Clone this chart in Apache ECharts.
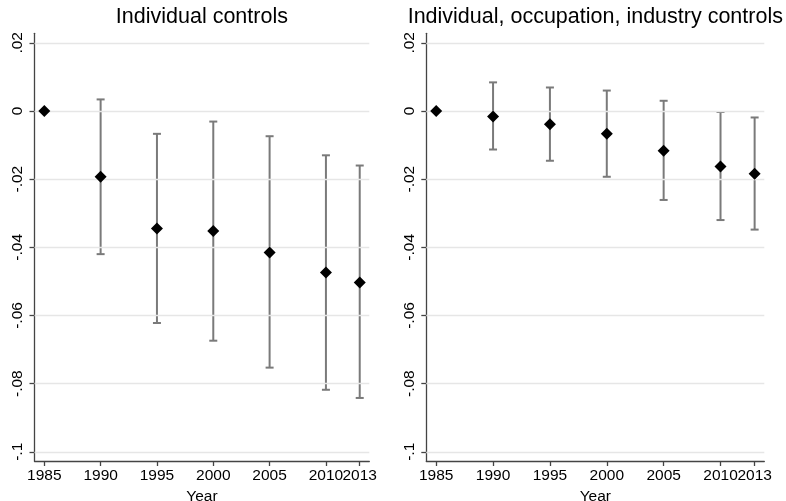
<!DOCTYPE html>
<html>
<head>
<meta charset="utf-8">
<script src="https://cdn.jsdelivr.net/npm/echarts@6/dist/echarts.min.js"></script>
<style>html,body{margin:0;padding:0;background:#fff}#c{width:786px;height:501px}</style>
</head>
<body>
<div id="c"></div>
<script>
var years = [1985, 1990, 1995, 2000, 2005, 2010, 2013];
var xTicks = [1985, 1990, 1995, 2000, 2005, 2010];
var xTicksLast = [2013];
var yTicks = [-0.1, -0.08, -0.06, -0.04, -0.02, 0, 0.02];
var yTickLabels = ['-.1', '-.08', '-.06', '-.04', '-.02', '0', '.02'];
var titles = ['Individual controls', 'Individual, occupation, industry controls'];
var xName = 'Year';

var coefA = [0, -0.0193, -0.0345, -0.0352, -0.0415, -0.0474, -0.0503];
var lowA  = [0, -0.0420, -0.0622, -0.0674, -0.0753, -0.0818, -0.0842];
var highA = [0,  0.0034, -0.0067, -0.0031, -0.0074, -0.0130, -0.0160];

var coefB = [0, -0.0016, -0.0039, -0.0067, -0.0117, -0.0163, -0.0184];
var lowB  = [0, -0.0113, -0.0146, -0.0193, -0.0261, -0.0320, -0.0348];
var highB = [0,  0.0084,  0.0069,  0.0060,  0.0030, -0.0003, -0.0019];

var font = '"Liberation Sans", Arial, sans-serif';

function ciData(low, high) {
  var out = [];
  for (var i = 1; i < years.length; i++) out.push([years[i], low[i], high[i]]);
  return out;
}
function ptData(coef) {
  return years.map(function (y, i) { return [y, coef[i]]; });
}
function renderCI(params, api) {
  var x = api.value(0);
  var lo = api.coord([x, api.value(1)]);
  var hi = api.coord([x, api.value(2)]);
  var hw = 4;
  var st = { stroke: '#7a7a7a', lineWidth: 2 };
  return {
    type: 'group',
    children: [
      { type: 'line', shape: { x1: lo[0], y1: lo[1], x2: hi[0], y2: hi[1] }, style: st },
      { type: 'line', shape: { x1: lo[0] - hw, y1: lo[1], x2: lo[0] + hw, y2: lo[1] }, style: st },
      { type: 'line', shape: { x1: hi[0] - hw, y1: hi[1], x2: hi[0] + hw, y2: hi[1] }, style: st }
    ]
  };
}

var grids = [
  { left: 34.5, right: 416.7, top: 33.3, bottom: 40, outerBoundsMode: 'none', containLabel: false },
  { left: 426.3, right: 21.7, top: 33.3, bottom: 40, outerBoundsMode: 'none', containLabel: false }
];

function xAxis(i, ticks, main) {
  return {
    type: 'value', gridIndex: i, min: 1984.13, max: 2013.85, position: 'bottom', offset: 0,
    name: main ? xName : '', nameLocation: 'middle', nameGap: 21,
    nameTextStyle: { fontFamily: font, fontSize: 15.5, color: '#000' },
    axisLine: { show: main, onZero: false, lineStyle: { color: '#444', width: 1.3 } },
    axisTick: { show: true, length: 5, customValues: ticks, lineStyle: { color: '#444', width: 1.3 } },
    axisLabel: { customValues: ticks, hideOverlap: false, showMinLabel: true, showMaxLabel: true,
      fontFamily: font, fontSize: 15.5, color: '#000', margin: 7,
      formatter: function (v) { return String(v); } },
    splitLine: { show: false }
  };
}
function yAxis(i) {
  return {
    type: 'value', gridIndex: i, min: -0.1027, max: 0.0228,
    axisLine: { show: true, onZero: false, lineStyle: { color: '#444', width: 1.3 } },
    axisTick: { show: true, length: 5, customValues: yTicks, lineStyle: { color: '#444', width: 1.3 } },
    axisLabel: { customValues: yTicks, hideOverlap: false, showMinLabel: true, showMaxLabel: true,
      rotate: 90, fontFamily: font, fontSize: 15.5, color: '#000', margin: 9,
      formatter: function (v) {
        for (var k = 0; k < yTicks.length; k++) if (Math.abs(yTicks[k] - v) < 1e-9) return yTickLabels[k];
        return '';
      } },
    splitLine: { show: false }
  };
}

function gridLines() {
  return {
    silent: true, symbol: 'none', label: { show: false },
    lineStyle: { color: '#e6e6e6', width: 1.3, type: 'solid' },
    data: yTicks.map(function (v) { return { yAxis: v }; })
  };
}

var series = [];
[[lowA, highA, coefA], [lowB, highB, coefB]].forEach(function (d, i) {
  series.push({
    type: 'line', xAxisIndex: i, yAxisIndex: i, data: [], silent: true,
    markLine: gridLines(), z: 1
  });
  series.push({
    type: 'custom', xAxisIndex: i, yAxisIndex: i, renderItem: renderCI,
    data: ciData(d[0], d[1]), z: 2, silent: true
  });
  series.push({
    type: 'scatter', xAxisIndex: i, yAxisIndex: i, data: ptData(d[2]),
    symbol: 'diamond', symbolSize: 12, itemStyle: { color: '#000', opacity: 1 }, z: 10, silent: true
  });
});

var chart = echarts.init(document.getElementById('c'), null, { renderer: 'canvas' });
chart.setOption({
  animation: false,
  backgroundColor: '#fff',
  title: [
    { text: titles[0], left: 201.9, top: 6, padding: 0, textAlign: 'center',
      textStyle: { fontFamily: font, fontSize: 21.5, fontWeight: 'normal', color: '#000' } },
    { text: titles[1], left: 595.3, top: 6, padding: 0, textAlign: 'center',
      textStyle: { fontFamily: font, fontSize: 21.5, fontWeight: 'normal', color: '#000' } }
  ],
  grid: grids,
  xAxis: [xAxis(0, xTicks, true), xAxis(1, xTicks, true), xAxis(0, xTicksLast, false), xAxis(1, xTicksLast, false)],
  yAxis: [yAxis(0), yAxis(1)],
  series: series
});
</script>
</body>
</html>
